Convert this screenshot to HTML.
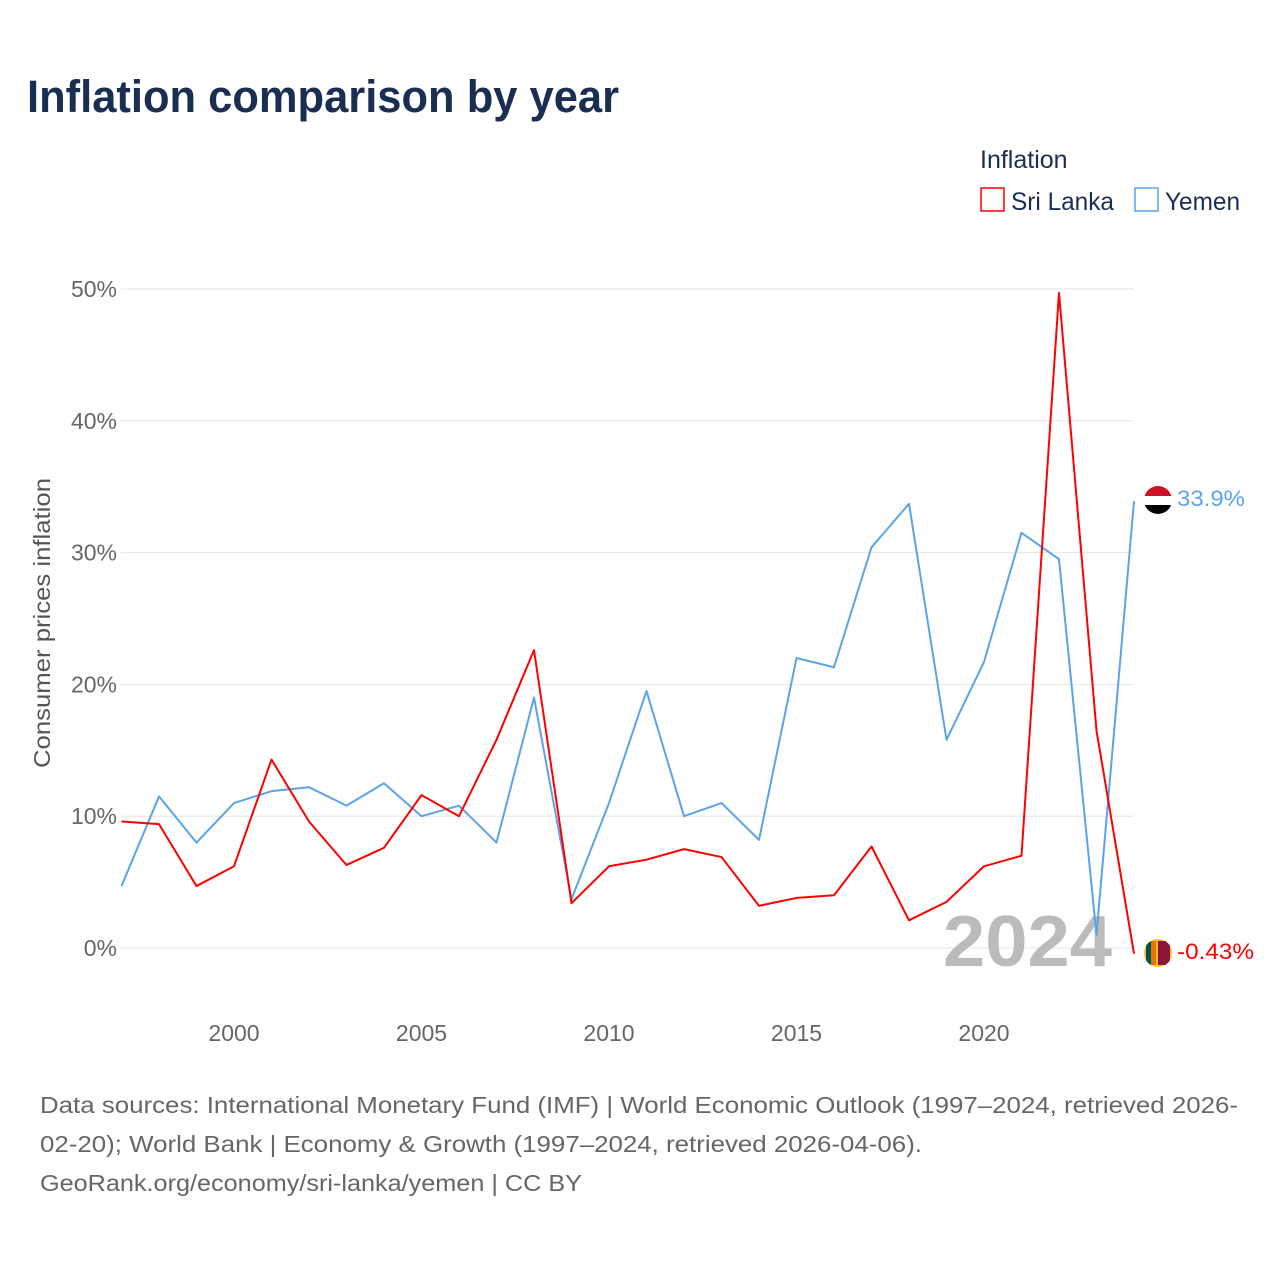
<!DOCTYPE html>
<html><head><meta charset="utf-8">
<style>
body{margin:0;background:#fff;font-family:"Liberation Sans",sans-serif;}
</style></head>
<body>
<svg id="chart" width="1280" height="1280" xmlns="http://www.w3.org/2000/svg">
<rect width="1280" height="1280" fill="#fff"/>
<text x="27" y="112" font-size="45" font-weight="bold" fill="#1a2e52" textLength="592" lengthAdjust="spacingAndGlyphs">Inflation comparison by year</text>
<text x="980" y="168" font-size="25" fill="#1a2e52">Inflation</text>
<g><rect x="981" y="188" width="23" height="23" fill="none" stroke="#ff0000" stroke-width="1.5"/><text x="1011" y="210" font-size="25" fill="#1a2e52" textLength="103" lengthAdjust="spacingAndGlyphs">Sri Lanka</text></g>
<g><rect x="1135" y="188" width="23" height="23" fill="none" stroke="#5ba4e8" stroke-width="1.5"/><text x="1165" y="210" font-size="25" fill="#1a2e52" textLength="75" lengthAdjust="spacingAndGlyphs">Yemen</text></g>
<g id="grid"></g>
<g id="xaxis"></g>
<text transform="translate(50,623) rotate(-90)" text-anchor="middle" font-size="23" fill="#555" textLength="290" lengthAdjust="spacingAndGlyphs">Consumer prices inflation</text>
<text x="943" y="966" font-size="72" font-weight="bold" fill="#bbb" textLength="169" lengthAdjust="spacingAndGlyphs">2024</text>
<g id="series"></g>
<g>
<clipPath id="cy"><circle cx="1158" cy="500" r="14"/></clipPath>
<g clip-path="url(#cy)"><rect x="1144" y="486" width="28" height="10" fill="#ce1126"/><rect x="1144" y="496" width="28" height="9" fill="#fff"/><rect x="1144" y="505" width="28" height="10" fill="#000"/></g></g>
<g>
<clipPath id="cs"><circle cx="1158" cy="953" r="14"/></clipPath>
<g clip-path="url(#cs)"><rect x="1144" y="939" width="28" height="28" fill="#ffbe29"/><rect x="1146" y="941" width="5" height="24" fill="#00534e"/><rect x="1151" y="941" width="5" height="24" fill="#eb7400"/><rect x="1158" y="941" width="12" height="24" fill="#8d153a"/></g></g>
<text x="1177" y="506" font-size="22" fill="#5ba4e8" textLength="68" lengthAdjust="spacingAndGlyphs">33.9%</text>
<text x="1177" y="959" font-size="22" fill="#ff0000" textLength="77" lengthAdjust="spacingAndGlyphs">-0.43%</text>
<g font-size="23" fill="#666">
<text x="40" y="1113" textLength="1198" lengthAdjust="spacingAndGlyphs">Data sources: International Monetary Fund (IMF) | World Economic Outlook (1997–2024, retrieved 2026-</text>
<text x="40" y="1152" textLength="882" lengthAdjust="spacingAndGlyphs">02-20); World Bank | Economy &amp; Growth (1997–2024, retrieved 2026-04-06).</text>
<text x="40" y="1191" textLength="542" lengthAdjust="spacingAndGlyphs">GeoRank.org/economy/sri-lanka/yemen | CC BY</text>
</g>
</svg>
<script>
const years=[1997,1998,1999,2000,2001,2002,2003,2004,2005,2006,2007,2008,2009,2010,2011,2012,2013,2014,2015,2016,2017,2018,2019,2020,2021,2022,2023,2024];
const sriLanka=[9.6,9.4,4.7,6.2,14.3,9.6,6.3,7.6,11.6,10.0,15.8,22.6,3.4,6.2,6.7,7.5,6.9,3.2,3.8,4.0,7.7,2.1,3.5,6.2,7.0,49.7,16.5,-0.43];
const yemen=[4.7,11.5,8.0,11.0,11.9,12.2,10.8,12.5,10.0,10.8,8.0,19.0,3.7,11.0,19.5,10.0,11.0,8.2,22.0,21.3,30.4,33.7,15.8,21.7,31.5,29.5,1.0,33.9];
const yTicks=[0,10,20,30,40,50];
const xTicks=[2000,2005,2010,2015,2020];
const NS="http://www.w3.org/2000/svg";
const x=v=>121.5+(v-1997)*37.5;
const y=v=>948-v*13.18;
function mk(tag,attrs,parent){const e=document.createElementNS(NS,tag);for(const k in attrs)e.setAttribute(k,attrs[k]);parent.appendChild(e);return e;}
const grid=document.getElementById('grid');
yTicks.forEach(t=>{
  const l=mk('line',{x1:121,x2:1134,y1:y(t),y2:y(t),stroke:'#e6e6e6','stroke-width':1},grid);
  
  
  const tx=mk('text',{x:117,y:y(t)+8,'text-anchor':'end','font-size':23,fill:'#666'},grid);
  tx.textContent=t+'%';
  
  
});
const xa=document.getElementById('xaxis');
xTicks.forEach(t=>{
  const tx=mk('text',{x:x(t),y:1041,'text-anchor':'middle','font-size':23,fill:'#666'},xa);
  tx.textContent=t;
  
  
});
const s=document.getElementById('series');
function line(vals,color,name){
  const p=mk('polyline',{points:vals.map((v,i)=>x(years[i])+','+y(v)).join(' '),fill:'none',stroke:color,'stroke-width':2,'stroke-linejoin':'round'},s);
  
  
}
line(yemen,'#5ba4e8','yemen-line');
line(sriLanka,'#ff0000','sri-lanka-line');
</script>
</body></html>
